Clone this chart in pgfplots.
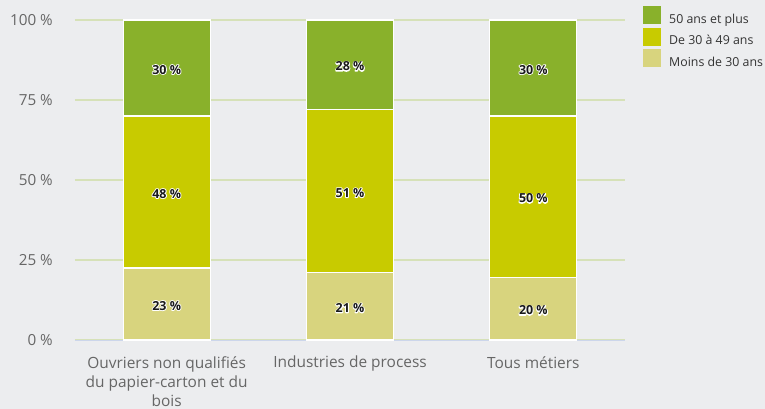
\documentclass[border=0pt]{standalone}
\usepackage{pgfplots}
\pgfplotsset{compat=1.18}
\usepackage{fontspec}
\setmainfont{Open Sans}
\definecolor{bg}{HTML}{ECEDEF}
\definecolor{cA}{HTML}{89B12B}
\definecolor{cB}{HTML}{C8CB00}
\definecolor{cC}{HTML}{D8D47E}
\definecolor{gridc}{HTML}{D6E1B8}
\definecolor{basec}{HTML}{CCD6EB}
\definecolor{tickc}{HTML}{666666}
\definecolor{legc}{HTML}{333333}
\definecolor{labc}{HTML}{1A1A1A}
\newcommand\halo[1]{\leavevmode\rlap{\special{pdf:code 1 1 1 RG 1.8 w 1 j 2 Tr}\textcolor{white}{#1}\special{pdf:code 0 Tr}}#1}
\begin{document}
\begin{tikzpicture}
\useasboundingbox (-75bp,-69bp) rectangle (690bp,340bp);
\fill[bg] (-75bp,-69bp) rectangle (690bp,340bp);
\begin{axis}[
  at={(0,0)}, anchor=south west,
  scale only axis, width=550bp, height=320bp,
  ybar stacked, bar width=87bp,
  xmin=-0.5, xmax=2.5, ymin=0, ymax=100,
  axis line style={draw=none},
  major tick length=0pt,
  ytick={0,25,50,75,100},
  ymajorgrids, major grid style={gridc, line width=2bp},
  yticklabel={\pgfmathprintnumber{\tick}~\%},
  /pgf/number format/assume math mode=true,
  yticklabel style={inner sep=0pt, xshift=-22bp, font=\fontsize{15.3}{18}\selectfont, text=tickc},
  xtick={0,1,2},
  xticklabels={{Ouvriers non qualifiés\\du papier-carton et du\\bois}, {Industries de process}, {Tous métiers}},
  xticklabel style={inner sep=0pt, yshift=-16bp, align=center, font=\fontsize{15.5}{19.5}\selectfont, text=tickc},
  legend style={at={(axis description cs:1.0327,1.04375)}, anchor=north west, draw=none, fill=none,
    inner sep=0pt, row sep=3bp, font=\fontsize{12.4}{14}\selectfont, text=legc,
    nodes={inner sep=0pt}, /tikz/every odd column/.style={column sep=8bp}},
  legend cell align=left,
  reverse legend,
  legend image code/.code={\fill[#1, draw=none] (0bp,-5bp) rectangle (18bp,13bp);},
]
\addplot[fill=cC, draw=white, line width=1.2bp] coordinates {(0,22.5) (1,21) (2,19.5)};
\addlegendentry{Moins de 30 ans}
\addplot[fill=cB, draw=white, line width=1.2bp] coordinates {(0,47.5) (1,51) (2,50.5)};
\addlegendentry{De 30 à 49 ans}
\addplot[fill=cA, draw=white, line width=1.2bp] coordinates {(0,30) (1,28) (2,30)};
\addlegendentry{50 ans et plus}
\draw[basec, line width=1bp] (axis cs:-0.5,0) -- (axis cs:2.5,0);
\end{axis}
\begin{axis}[
  at={(0,0)}, anchor=south west,
  scale only axis, width=550bp, height=320bp,
  xmin=-0.5, xmax=2.5, ymin=0, ymax=100,
  hide axis,
  nodes near coords, point meta=explicit symbolic,
  every node near coord/.append style={anchor=center, font=\bfseries\fontsize{12.5}{14}\selectfont, text=labc},
  nodes near coords={\halo{\pgfplotspointmeta}},
]
\addplot[draw=none, mark=none] coordinates {(0,10.75) [23 \%] (1,10) [21 \%] (2,9.25) [20 \%]};
\addplot[draw=none, mark=none] coordinates {(0,45.75) [48 \%] (1,46) [51 \%] (2,44.25) [50 \%]};
\addplot[draw=none, mark=none] coordinates {(0,84.5) [30 \%] (1,85.5) [28 \%] (2,84.5) [30 \%]};
\end{axis}
\end{tikzpicture}
\end{document}
